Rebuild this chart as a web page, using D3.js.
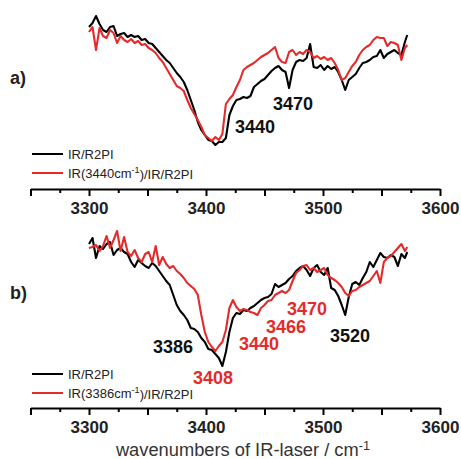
<!DOCTYPE html>
<html>
<head>
<meta charset="utf-8">
<script src="https://cdn.jsdelivr.net/npm/d3@7"></script>
<style>
  body { margin: 0; background: white; }
  text { font-family: "Liberation Sans", Arial, sans-serif; }
</style>
</head>
<body>
<div id="chart"></div>
<script>
// scan grid of the IR laser (cm-1)
const wavenumbers = [3300,3303,3306,3309,3312,3315,3318,3321,3324,3327,3330,3333,3336,3339,3342,3345,3348,3351,3354,3357,
  3360,3363,3366,3369,3372,3375,3378,3381,3384,3387,3390,3393,3396,3399,3402,3405,3408,3411,3414,3417,
  3420,3423,3426,3429,3432,3435,3438,3441,3444,3447,3450,3453,3456,3459,3462,3465,3468,3471,3474,3477,
  3480,3483,3486,3489,3492,3495,3498,3501,3504,3507,3510,3513,3516,3519,3522,3525,3528,3531,3534,3537,
  3540,3543,3546,3549,3552,3555,3558,3561,3564,3567,3570,3572];

// a) ion signal, arbitrary units
const aBlack = [123,127,134,126,120,118,123,124,114,116,117,113,115,113,114,110,111,107,106,102,
  98,94,90,87,82,77,73,68,60,50,40,28,20,15,10,9,5,8,8,12,
  35,44,50,51,53,52,54,63,66,69,71,75,79,82,84,80,78,62,80,88,
  90,89,92,106,83,82,85,80,84,81,83,78,70,60,70,73,76,82,87,88,
  90,93,94,100,92,96,98,100,97,95,108,115];
const aRed = [118,123,100,122,114,112,120,117,107,114,110,108,111,107,109,105,106,102,100,97,
  92,88,82,76,70,64,62,59,50,42,36,30,23,15,12,9,13,10,16,46,
  51,55,63,70,80,83,85,87,90,93,95,97,100,103,92,88,87,98,100,95,
  98,96,100,98,92,94,91,93,90,92,87,80,70,72,78,84,88,95,100,103,
  105,110,113,112,112,104,108,107,105,90,102,105];

// b) ion signal, arbitrary units
const bBlack = [131,137,117,129,126,131,133,120,125,127,123,121,113,108,115,112,109,107,112,109,
  104,99,94,90,80,70,64,60,55,47,46,43,37,33,26,25,21,17,9,23,
  43,57,62,61,65,64,67,69,72,75,77,78,81,91,88,90,92,96,99,104,
  107,109,105,99,107,110,103,100,107,87,85,79,70,60,78,91,93,90,97,103,
  113,108,115,122,118,117,120,118,109,121,117,123];
const bRed = [127,128,130,124,129,139,127,135,144,124,138,123,119,125,117,113,121,123,113,129,
  110,118,111,107,109,104,101,97,92,89,86,80,60,43,33,28,24,29,33,45,
  67,75,68,64,66,65,63,62,60,67,70,74,75,80,82,84,82,85,94,102,
  105,109,110,105,107,103,105,107,100,97,95,92,88,82,79,84,85,88,90,92,
  94,99,104,92,113,117,119,123,127,131,124,128];

const majorTicks = [3250,3300,3350,3400,3450,3500,3550,3600];
const minorTicks = [3275,3325,3375,3425,3475,3525,3575];
const tickLabels = [3300,3400,3500,3600];

const red = '#e42b2b';
const width = 461, height = 459;

const svg = d3.select('#chart')
  .append('svg')
    .attr('width', width)
    .attr('height', height);

const x = d3.scaleLinear().domain([3250, 3600]).range([30.5, 440]);

function drawPanel(opts){
  const y = d3.scaleLinear().domain(opts.yDomain).range(opts.yRange);
  const g = svg.append('g');

  const line = d3.line()
    .x((d, i) => x(wavenumbers[i]))
    .y(d => y(d));

  g.append('path')
    .datum(opts.black)
    .attr('fill', 'none')
    .attr('stroke', '#000')
    .attr('stroke-width', 2.1)
    .attr('stroke-linejoin', 'round')
    .attr('d', line);

  g.append('path')
    .datum(opts.red)
    .attr('fill', 'none')
    .attr('stroke', red)
    .attr('stroke-width', 2.1)
    .attr('stroke-linejoin', 'round')
    .attr('d', line);

  // axis: major ticks with labels at hundreds, minor ticks in between
  const major = d3.axisBottom(x)
    .tickValues(majorTicks)
    .tickSize(7)
    .tickSizeOuter(0)
    .tickPadding(6)
    .tickFormat(d => tickLabels.includes(d) ? d : '');
  const minor = d3.axisBottom(x)
    .tickValues(minorTicks)
    .tickSize(4)
    .tickSizeOuter(0)
    .tickFormat('');

  const ax = g.append('g')
    .attr('transform', `translate(0,${opts.axisY})`)
    .call(major);
  ax.select('.domain').attr('stroke-width', 2);
  ax.selectAll('.tick line').attr('stroke-width', 2);
  ax.selectAll('.tick text')
    .attr('font-size', 17)
    .attr('font-weight', 'bold')
    .attr('fill', '#222')
    .style('font-family', '"Liberation Sans", Arial, sans-serif');

  const axm = g.append('g')
    .attr('transform', `translate(0,${opts.axisY})`)
    .call(minor);
  axm.select('.domain').remove();
  axm.selectAll('.tick line').attr('stroke-width', 2);

  // panel letter
  g.append('text')
    .attr('x', 10)
    .attr('y', opts.letterY)
    .attr('font-size', 18)
    .attr('font-weight', 'bold')
    .attr('fill', '#222')
    .text(opts.letter);

  // legend
  const leg = g.append('g');
  [{c: '#000', y: opts.legendY}, {c: red, y: opts.legendY + 19}].forEach((l, i) => {
    leg.append('line')
      .attr('x1', 32).attr('x2', 63)
      .attr('y1', l.y).attr('y2', l.y)
      .attr('stroke', l.c)
      .attr('stroke-width', 2);
    const t = leg.append('text')
      .attr('x', 68)
      .attr('y', l.y + 4.5)
      .attr('font-size', 13)
      .attr('fill', '#222');
    if(i === 0){
      t.text('IR/R2PI');
    } else {
      t.append('tspan').text(`IR(${opts.pump}cm`);
      t.append('tspan').attr('dy', '-0.45em').attr('font-size', '0.7em').text('-1');
      t.append('tspan').attr('dy', '0.45em').text(')/IR/R2PI');
    }
  });

  // band labels
  opts.labels.forEach(l => {
    g.append('text')
      .attr('x', l.x)
      .attr('y', l.y)
      .attr('font-size', 18)
      .attr('font-weight', 'bold')
      .attr('fill', l.red ? red : '#111')
      .text(l.t);
  });
}

drawPanel({
  black: aBlack, red: aRed,
  yDomain: [0, 140], yRange: [150, 10],
  axisY: 189, letter: 'a)', letterY: 84,
  legendY: 154, pump: 3440,
  labels: [
    {t: '3440', x: 235, y: 133},
    {t: '3470', x: 273, y: 110}
  ]
});

drawPanel({
  black: bBlack, red: bRed,
  yDomain: [0, 145], yRange: [375, 230],
  axisY: 408, letter: 'b)', letterY: 299,
  legendY: 374, pump: 3386,
  labels: [
    {t: '3386', x: 153, y: 353},
    {t: '3408', x: 193, y: 384, red: true},
    {t: '3440', x: 239, y: 350, red: true},
    {t: '3466', x: 266, y: 333, red: true},
    {t: '3470', x: 287, y: 315, red: true},
    {t: '3520', x: 330, y: 342}
  ]
});

// axis title
const title = svg.append('text')
  .attr('x', 243)
  .attr('y', 456)
  .attr('text-anchor', 'middle')
  .attr('font-size', 18.3)
  .attr('fill', '#333');
title.append('tspan').text('wavenumbers of IR-laser / cm');
title.append('tspan').attr('dy', '-0.45em').attr('font-size', '0.7em').text('-1');
</script>
</body>
</html>
